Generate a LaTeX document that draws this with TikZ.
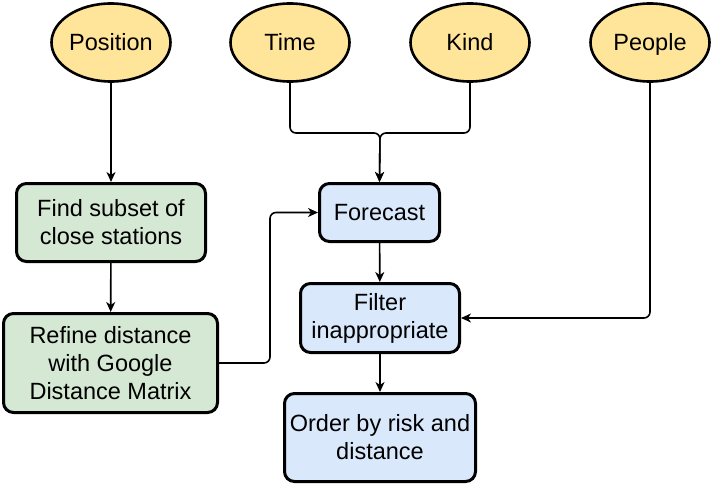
\documentclass[tikz,border=0pt]{standalone}
\usepackage{fontspec}
\setmainfont{Liberation Sans}
\usetikzlibrary{shapes.geometric,arrows.meta}
\definecolor{yel}{HTML}{FFE599}
\definecolor{grn}{HTML}{D5E8D4}
\definecolor{blu}{HTML}{DAE8FC}
\tikzset{
  inp/.style={ellipse, draw=black, fill=yel, line width=2.6pt, minimum width=119, minimum height=78, inner sep=0pt, text height=17pt, text depth=0pt},
  gbox/.style={rectangle, rounded corners=10pt, draw=black, fill=grn, line width=3pt, align=center, inner sep=0pt},
  bbox/.style={rectangle, rounded corners=10pt, draw=black, fill=blu, line width=3pt, align=center, inner sep=0pt},
  conn/.style={line width=1.6pt, rounded corners=6pt, -{Stealth[length=10pt,width=9pt,inset=3pt]}},
  every node/.style={font=\fontsize{23.5}{28}\selectfont}
}
\begin{document}
\begin{tikzpicture}[x=1pt,y=-1pt]
\useasboundingbox (0,0) rectangle (714,487);
\node[inp] (pos) at (111,42.5) {Position};
\node[inp] (time) at (290,42.5) {Time};
\node[inp] (kind) at (470,42.5) {Kind};
\node[inp] (people) at (650,42.5) {People};
\node[gbox, minimum width=189, minimum height=78] (find) at (111,222.5) {Find subset of\\close stations};
\node[gbox, minimum width=214, minimum height=99] (ref) at (110.5,363) {Refine distance\\with Google\\Distance Matrix};
\node[bbox, minimum width=120, minimum height=58] (fc) at (379.5,212.5) {Forecast};
\node[bbox, minimum width=159, minimum height=69] (filt) at (380,318) {Filter\\inappropriate};
\node[bbox, minimum width=191, minimum height=88] (ord) at (380,437.5) {Order by risk and\\distance};
\coordinate (m) at (380,133);
\coordinate (bend) at (270,212.5);
\draw[conn] (pos) -- (find);
\draw[conn] (find) -- (ref);
\draw[conn] (time.south) |- (m) -- (fc.north);
\draw[conn] (kind.south) |- (m) -- (fc.north);
\draw[conn] (ref.east) -| (bend) -- (fc.west);
\draw[conn] (fc) -- (filt);
\draw[conn] (filt) -- (ord);
\draw[conn] (people.south) |- (filt.east);
\end{tikzpicture}
\end{document}
